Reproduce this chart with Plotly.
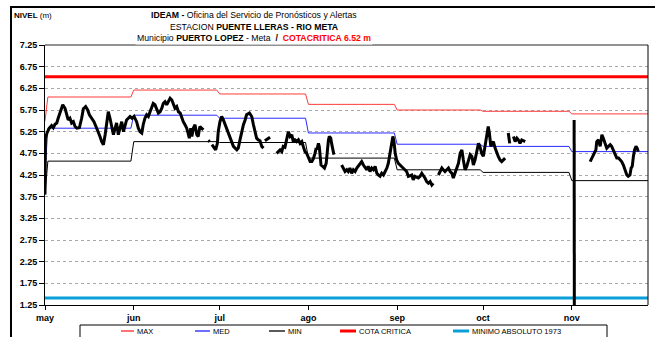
import pandas as pd
import plotly.graph_objects as go

# ---------------------------------------------------------------- datos
ANIO_INICIO = "2019-05-01"
DIAS_VISIBLES = 210.6

MESES = ["may", "jun", "jul", "ago", "sep", "oct", "nov"]
INICIO_MES = ["2019-05-01", "2019-06-01", "2019-07-01", "2019-08-01",
              "2019-09-01", "2019-10-01", "2019-11-01"]

# niveles de referencia por mes (m)
MAX_MES = [6.05, 6.21, 6.12, 5.88, 5.75, 5.72, 5.66]
MED_MES = [5.33, 5.63, 5.56, 5.22, 4.96, 4.91, 4.79]
MIN_MES = [4.57, 5.02, 5.00, 4.64, 4.37, 4.31, 4.12]
MAX_DIA1, MED_DIA1, MIN_DIA1 = 5.50, 4.30, 3.80

COTA_CRITICA = 6.52
MINIMO_ABSOLUTO_1973 = 1.41

# nivel observado: dias desde el 1 de mayo, None = sin dato
NIVEL_DIAS = [
    0.0, 0.15, 0.7, 1.5, 2.3, 2.9, 3.5, 4.1, 4.6, 5.5, 6.2, 7.0, 7.6, 8.1, 8.7, 9.3, 9.9,
    10.5, 11.1, 12.0, 12.8, 13.4, 14.2, 14.9, 15.5, 16.3, 17.1, 17.8, 18.6, 19.2, 19.8,
    20.4, 21.0, 21.6, 22.1, 22.7, 23.3, 23.9, 24.5, 25.0, 25.6, 26.2, 26.8, 27.4, 27.9,
    28.5, 29.1, 29.7, 30.4, 31.1, 32.0, 32.6, 33.2, 33.8, 34.3, 34.9, 35.5, 36.1, 36.7,
    37.3, 37.8, 38.4, 39.0, 39.6, 40.2, 40.8, 41.3, 41.9, 42.5, 43.1, 43.7, 44.3, 44.8,
    45.4, 46.0, 46.6, 47.2, 47.8, 48.3, 48.9, 49.5, 50.1, 50.4, 50.9, 51.3, 51.8, 52.4,
    53.0, 53.5, 54.1, 54.7, 55.3, None,
    57.0, 57.5, None,
    58.3, 59.0, 59.6, 60.2, 60.5, 61.1, 61.7, 62.3, 62.9, 63.5, 64.0, 64.6, 65.2, 65.8,
    67.0, 67.5, 68.1, 68.7, 69.3, 69.9, 70.4, 71.4, 72.2, 72.8, 73.4, 73.9, 74.5, 75.1,
    75.7, 76.3, None,
    76.8, 77.7, 78.6, None,
    80.9, 81.6, 82.1, 82.7, 83.2, 83.8, 84.4, 85.0, 85.6, 86.2, 86.7, 87.3, 87.9, 88.5,
    89.1, 89.7, 90.2, 90.8, 91.4, 92.0, 92.6, 93.2, 93.7, 94.3, 94.7, 95.0, 95.5, 95.8,
    96.1, 96.4, 97.0, 97.6, 98.2, 98.6, 99.0, 99.3, 99.8, 100.1, 100.5, 100.9, None,
    103.6, 104.2, 104.8, 105.4, 105.9, 106.5, 107.1, 107.7, 108.3, 108.9, 110.0, 110.6,
    111.2, 111.8, 112.4, 112.9, 113.5, 114.1, 114.7, 115.3, 115.9, 116.4, 117.0, 117.6,
    118.2, 118.8, 119.4, 119.9, 120.5, 121.1, 121.5, 121.9, 122.3, 122.8, 123.4, 124.0,
    125.2, 126.3, 126.9, 128.1, 128.6, 129.2, 130.4, 131.0, 131.6, 132.1, 132.7, 133.3,
    133.9, 134.5, 135.1, 135.6, None,
    137.4, 138.0, 138.6, 139.1, 139.7, 140.3, 140.9, 141.5, 142.1, 142.6, 143.2, 143.8,
    144.4, 145.0, 145.6, 146.1, 146.7, 147.3, 147.9, 148.5, 149.1, 149.6, 150.2, 150.8,
    151.4, 151.9, 152.5, 153.1, 153.7, 154.0, 154.5, 154.8, 155.2, 155.7, 156.1, 156.6,
    157.2, 157.8, 158.3, 158.9, 159.5, 160.1, 160.7, None,
    161.8, 162.3, None,
    163.6, 164.2, 164.8, 165.3, 165.9, 166.5, 167.7, None,
    184.8, 184.9, None,
    190.4, 191.2, 191.9, 192.4, 192.7, 193.3, 193.9, 194.5, 195.0, 195.6, 196.2, 196.8,
    197.4, 197.9, 198.5, 199.1, 199.7, 200.3, 200.8, 201.4, 202.0, 202.6, 203.2, 203.7,
    204.3, 204.7, 205.1, 205.5, 205.9, 206.4, 206.8, 207.2,
]
NIVEL_M = [
    3.80, 5.10, 5.22, 5.33, 5.39, 5.34, 5.42, 5.45, 5.56, 5.75, 5.87, 5.79, 5.60, 5.52, 5.56, 5.45, 5.48,
    5.37, 5.33, 5.34, 5.56, 5.78, 5.83, 5.75, 5.64, 5.56, 5.48, 5.37, 5.25, 5.14, 5.02,
    4.95, 5.18, 5.56, 5.71, 5.56, 5.33, 5.18, 5.33, 5.45, 5.18, 5.37, 5.48, 5.25, 5.37,
    5.52, 5.56, 5.60, 5.56, 5.60, 5.48, 5.33, 5.25, 5.22, 5.41, 5.56, 5.64, 5.60, 5.71,
    5.83, 5.90, 5.87, 5.79, 5.68, 5.71, 5.79, 5.90, 5.94, 5.87, 5.94, 6.02, 5.98, 5.90,
    5.79, 5.83, 5.71, 5.68, 5.56, 5.48, 5.41, 5.33, 5.18, 5.10, 5.33, 5.14, 5.33, 5.41,
    5.18, 5.14, 5.37, 5.33, 5.29, None,
    5.05, 5.02, None,
    4.95, 4.87, 4.83, 4.98, 5.25, 5.48, 5.60, 5.52, 5.41, 5.33, 5.22, 5.10, 4.98, 4.91,
    4.83, 4.87, 5.06, 5.25, 5.41, 5.52, 5.64, 5.68, 5.60, 5.41, 5.22, 5.10, 5.06, 5.04,
    4.91, 4.87, None,
    5.04, 5.08, 5.12, None,
    4.75, 4.80, 4.83, 4.79, 4.91, 4.89, 5.06, 5.25, 5.14, 5.18, 5.02, 5.06, 5.02, 5.06,
    4.98, 5.02, 4.91, 4.79, 4.75, 4.64, 4.56, 4.56, 4.62, 4.75, 4.87, 4.84, 4.98, 4.90,
    4.68, 4.48, 4.45, 4.41, 4.52, 4.83, 5.06, 5.14, 5.10, 4.98, 4.79, 4.72, None,
    4.48, 4.41, 4.33, 4.37, 4.33, 4.41, 4.29, 4.37, 4.33, 4.41, 4.52, 4.56,
    4.48, 4.41, 4.37, 4.45, 4.33, 4.41, 4.37, 4.45, 4.29, 4.25, 4.22, 4.29,
    4.25, 4.33, 4.41, 4.52, 4.75, 4.98, 5.14, 5.02, 4.75, 4.60, 4.52, 4.48,
    4.41, 4.33, 4.22, 4.25, 4.14, 4.22, 4.18, 4.22, 4.29, 4.25, 4.18, 4.10,
    4.06, 4.10, 4.02, 4.06, None,
    4.25, 4.33, 4.41, 4.37, 4.33, 4.37, 4.41, 4.33, 4.29, 4.18, 4.29, 4.45,
    4.52, 4.75, 4.83, 4.60, 4.37, 4.45, 4.60, 4.72, 4.68, 4.48, 4.60, 4.83,
    4.98, 4.91, 4.75, 4.68, 4.91, 5.06, 5.29, 5.37, 5.22, 4.91, 4.98, 5.02,
    4.87, 4.75, 4.68, 4.60, 4.56, 4.60, 4.64, None,
    5.22, 4.98, None,
    5.14, 5.02, 5.10, 5.06, 4.98, 5.06, 5.02, None,
    5.52, 0.00, None,
    4.56, 4.68, 4.75, 4.83, 5.02, 5.06, 4.91, 5.18, 5.10, 4.98, 4.87, 4.91,
    4.95, 4.91, 4.83, 4.75, 4.64, 4.64, 4.60, 4.56, 4.48, 4.37, 4.25, 4.22,
    4.25, 4.41, 4.45, 4.68, 4.83, 4.91, 4.87, 4.79,
]

Y_TICKS = [1.25, 1.75, 2.25, 2.75, 3.25, 3.75, 4.25, 4.75, 5.25, 5.75, 6.25, 6.75, 7.25]

# ---------------------------------------------------------------- preparación
inicio = pd.Timestamp(ANIO_INICIO)
fin = inicio + pd.to_timedelta(DIAS_VISIBLES, unit="D")
un_dia = pd.Timedelta(days=1)

x_nivel = [None if d is None else inicio + pd.to_timedelta(d, unit="D") for d in NIVEL_DIAS]


def escalones(valor_dia1, mensual):
    """Serie diaria escalonada: constante dentro de cada mes."""
    bordes = [pd.Timestamp(m) for m in INICIO_MES] + [fin + un_dia]
    xs, ys = [inicio], [valor_dia1]
    for i, v in enumerate(mensual):
        a = bordes[i] + (un_dia if i == 0 else pd.Timedelta(0))
        b = min(bordes[i + 1] - un_dia, fin)
        xs += [a, b]
        ys += [v, v]
    return xs, ys


W, H = 655, 337
ML, MR, MT, MB = 45, 7, 45, 32
PW, PH = W - ML - MR, H - MT - MB


def px(x):
    return (x - ML) / PW


def py(y):
    return (H - MB - y) / PH


FUENTE = "Liberation Sans, Arial, sans-serif"

fig = go.Figure()

fig.add_trace(go.Scatter(x=[inicio, fin], y=[MINIMO_ABSOLUTO_1973] * 2, mode="lines",
                         line=dict(color="#0a9fd8", width=3), name="MINIMO ABSOLUTO 1973"))
fig.add_trace(go.Scatter(x=[inicio, fin], y=[COTA_CRITICA] * 2, mode="lines",
                         line=dict(color="#ff0000", width=3), name="COTA CRITICA"))

for nombre, dia1, mensual, color in [
    ("MAX", MAX_DIA1, MAX_MES, "#ff3b3b"),
    ("MED", MED_DIA1, MED_MES, "#2a2aff"),
    ("MIN", MIN_DIA1, MIN_MES, "#000000"),
]:
    xs, ys = escalones(dia1, mensual)
    fig.add_trace(go.Scatter(x=xs, y=ys, mode="lines", name=nombre,
                             line=dict(color=color, width=1)))

fig.add_trace(go.Scatter(x=x_nivel, y=NIVEL_M, mode="lines", name="NIVEL",
                         line=dict(color="#000000", width=3), connectgaps=False))

# ---------------------------------------------------------------- ejes
fig.update_xaxes(
    type="date", range=[inicio, fin],
    tickvals=[pd.Timestamp(m) for m in INICIO_MES], ticktext=MESES,
    ticks="outside", ticklen=4, tickcolor="#000", tickwidth=1,
    showgrid=False, zeroline=False,
    showline=True, linecolor="#000", linewidth=1,
    tickfont=dict(family=FUENTE, size=9, color="#000", weight="bold"),
)
fig.update_yaxes(
    range=[1.25, 7.25], tickvals=Y_TICKS, ticktext=[f"{v:.2f}" for v in Y_TICKS],
    ticks="outside", ticklen=5, tickcolor="#000", tickwidth=1,
    showgrid=True, gridcolor="#a8a8a8", griddash="dot", gridwidth=1,
    zeroline=False, showline=True, linecolor="#000", linewidth=1,
    tickfont=dict(family=FUENTE, size=9, color="#000", weight="bold"),
)

shapes = [
    # borde superior y derecho del área de trazado
    dict(type="line", xref="paper", yref="paper", x0=0, x1=1, y0=1, y1=1,
         line=dict(color="#6e6e6e", width=1.5)),
    dict(type="line", xref="paper", yref="paper", x0=1, x1=1, y0=0, y1=1,
         line=dict(color="#000", width=1)),
    # marco exterior
    dict(type="rect", xref="paper", yref="paper", x0=px(11), x1=px(662),
         y0=py(345), y1=py(7), line=dict(color="#000", width=2), layer="above"),
    # recuadro de la leyenda
    dict(type="rect", xref="paper", yref="paper", x0=px(80), x1=px(607),
         y0=py(345), y1=py(325), line=dict(color="#000", width=1),
         fillcolor="#fff", layer="above"),
]

annotations = [
    dict(text="<b>NIVEL</b> (m)", x=px(12), y=py(16), xanchor="left", yanchor="middle",
         font=dict(size=8)),
    dict(text="<b>IDEAM -</b> Oficina del Servicio de Pronósticos y Alertas",
         x=px(254), y=py(15.5), xanchor="center", yanchor="middle", font=dict(size=8.7)),
    dict(text="ESTACION <b>PUENTE LLERAS - RIO META</b>",
         x=px(254), y=py(26.5), xanchor="center", yanchor="middle", font=dict(size=8.7)),
    dict(text=("Municipio <b>PUERTO LOPEZ</b> - Meta  <b>/</b>  "
               f"<span style='color:#ff0000'><b>COTACRITICA {COTA_CRITICA:.2f} m</b></span>"),
         x=px(254), y=py(37.5), xanchor="center", yanchor="middle", font=dict(size=8.7),
         bgcolor="#ffffff"),
]

leyenda = [
    ("MAX", "#ff2a2a", 1.3, 121, 135),
    ("MED", "#2020ff", 1.3, 195, 211),
    ("MIN", "#000000", 1.3, 269, 286),
    ("COTA CRITICA", "#ff0000", 3, 340, 357),
    ("MINIMO ABSOLUTO 1973", "#0a9fd8", 3, 453, 470),
]
for texto, color, ancho, x0, xt in leyenda:
    shapes.append(dict(type="line", xref="paper", yref="paper", x0=px(x0), x1=px(xt - 1),
                       y0=py(331), y1=py(331), line=dict(color=color, width=ancho),
                       layer="above"))
    annotations.append(dict(text=texto, x=px(xt), y=py(331.5), xanchor="left",
                            yanchor="middle", font=dict(size=7.5)))

for a in annotations:
    a.update(xref="paper", yref="paper", showarrow=False)
    a["font"].update(family=FUENTE, color=a["font"].get("color", "#000"))

fig.update_layout(
    width=W, height=H,
    margin=dict(l=ML, r=MR, t=MT, b=MB),
    paper_bgcolor="#ffffff", plot_bgcolor="#ffffff",
    showlegend=False,
    shapes=shapes, annotations=annotations,
    font=dict(family=FUENTE, color="#000"),
)

fig.write_html("out.html")
